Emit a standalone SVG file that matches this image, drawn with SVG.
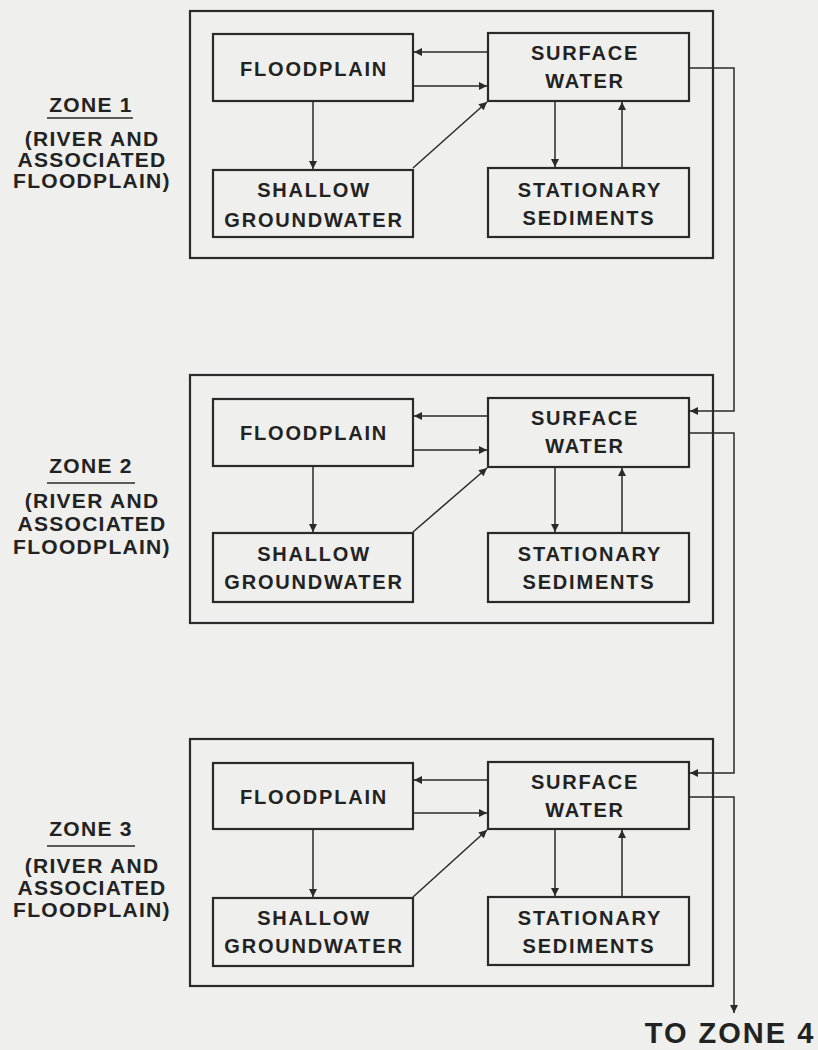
<svg xmlns="http://www.w3.org/2000/svg" width="818" height="1050" viewBox="0 0 818 1050">
<style>
.bg{fill:#efefed}
.zone{fill:none;stroke:#2a2a2a;stroke-width:2.2}
.box{fill:none;stroke:#2a2a2a;stroke-width:2.2}
.t{font-family:"Liberation Sans",Arial,sans-serif;font-weight:bold;font-size:20px;letter-spacing:1.8px;fill:#222;text-anchor:middle}
.zl{font-family:"Liberation Sans",Arial,sans-serif;font-weight:bold;font-size:21px;letter-spacing:1.3px;fill:#222;text-anchor:middle}
.c{fill:none;stroke:#2a2a2a;stroke-width:1.5;marker-end:url(#ah)}
.ul{stroke:#2a2a2a;stroke-width:1.5}
</style>
<defs>
<marker id="ah" viewBox="0 0 10 10" refX="10" refY="5" markerWidth="11" markerHeight="8" markerUnits="userSpaceOnUse" orient="auto">
<path d="M0,0 L10,5 L0,10 Z" fill="#2a2a2a"/>
</marker>
</defs>
<rect class="bg" x="0" y="0" width="818" height="1050"/>

<!-- Zone 1 -->
<g id="zone1">
<rect class="zone" x="190" y="11" width="523" height="247"/>
<g id="zone1-label">
<text class="zl" x="91" y="112">ZONE 1</text>
<line class="ul" x1="47" y1="118" x2="133" y2="118"/>
<text class="zl" x="92" y="146">(RIVER AND</text>
<text class="zl" x="92" y="167">ASSOCIATED</text>
<text class="zl" x="92" y="188">FLOODPLAIN)</text>
</g>
<g id="z1-floodplain"><rect class="box" x="213" y="34" width="200" height="67"/><text class="t" x="314" y="76">FLOODPLAIN</text></g>
<g id="z1-surface"><rect class="box" x="488" y="33" width="201" height="68"/><text class="t" x="585" y="60">SURFACE</text><text class="t" x="585" y="88">WATER</text></g>
<g id="z1-shallow"><rect class="box" x="213" y="170" width="200" height="67"/><text class="t" x="314" y="197">SHALLOW</text><text class="t" x="314" y="227">GROUNDWATER</text></g>
<g id="z1-sediments"><rect class="box" x="488" y="168" width="201" height="69"/><text class="t" x="590" y="197">STATIONARY</text><text class="t" x="589" y="225">SEDIMENTS</text></g>
</g>

<!-- Zone 2 -->
<g id="zone2">
<rect class="zone" x="190" y="375" width="523" height="248"/>
<g id="zone2-label">
<text class="zl" x="91" y="473">ZONE 2</text>
<line class="ul" x1="47" y1="483" x2="135" y2="483"/>
<text class="zl" x="92" y="508">(RIVER AND</text>
<text class="zl" x="92" y="531">ASSOCIATED</text>
<text class="zl" x="92" y="554">FLOODPLAIN)</text>
</g>
<g id="z2-floodplain"><rect class="box" x="213" y="399" width="200" height="67"/><text class="t" x="314" y="440">FLOODPLAIN</text></g>
<g id="z2-surface"><rect class="box" x="488" y="398" width="201" height="69"/><text class="t" x="585" y="425">SURFACE</text><text class="t" x="585" y="453">WATER</text></g>
<g id="z2-shallow"><rect class="box" x="213" y="533" width="200" height="69"/><text class="t" x="314" y="561">SHALLOW</text><text class="t" x="314" y="589">GROUNDWATER</text></g>
<g id="z2-sediments"><rect class="box" x="488" y="533" width="201" height="69"/><text class="t" x="590" y="561">STATIONARY</text><text class="t" x="589" y="589">SEDIMENTS</text></g>
</g>

<!-- Zone 3 -->
<g id="zone3">
<rect class="zone" x="190" y="739" width="523" height="247"/>
<g id="zone3-label">
<text class="zl" x="91" y="836">ZONE 3</text>
<line class="ul" x1="47" y1="846" x2="135" y2="846"/>
<text class="zl" x="92" y="873">(RIVER AND</text>
<text class="zl" x="92" y="895">ASSOCIATED</text>
<text class="zl" x="92" y="917">FLOODPLAIN)</text>
</g>
<g id="z3-floodplain"><rect class="box" x="213" y="763" width="200" height="66"/><text class="t" x="314" y="804">FLOODPLAIN</text></g>
<g id="z3-surface"><rect class="box" x="488" y="762" width="201" height="67"/><text class="t" x="585" y="789">SURFACE</text><text class="t" x="585" y="817">WATER</text></g>
<g id="z3-shallow"><rect class="box" x="213" y="898" width="200" height="68"/><text class="t" x="314" y="925">SHALLOW</text><text class="t" x="314" y="953">GROUNDWATER</text></g>
<g id="z3-sediments"><rect class="box" x="488" y="897" width="201" height="68"/><text class="t" x="590" y="925">STATIONARY</text><text class="t" x="589" y="953">SEDIMENTS</text></g>
</g>

<g id="to-zone4"><text x="730" y="1043" font-family="Liberation Sans, Arial, sans-serif" font-weight="bold" font-size="29" letter-spacing="2" fill="#222" text-anchor="middle">TO ZONE 4</text></g>

<g id="connectors">
<!-- zone 1 -->
<path class="c" d="M488,52 L414,52"/>
<path class="c" d="M413,86 L487,86"/>
<path class="c" d="M313,101 L313,169"/>
<path class="c" d="M413,168 L487,102"/>
<path class="c" d="M555,101 L555,167"/>
<path class="c" d="M622,168 L622,102"/>
<!-- zone 2 -->
<path class="c" d="M488,416 L414,416"/>
<path class="c" d="M413,450 L487,450"/>
<path class="c" d="M313,466 L313,532"/>
<path class="c" d="M413,532 L487,468"/>
<path class="c" d="M555,467 L555,532"/>
<path class="c" d="M622,533 L622,468"/>
<!-- zone 3 -->
<path class="c" d="M488,780 L414,780"/>
<path class="c" d="M413,813 L487,813"/>
<path class="c" d="M313,829 L313,897"/>
<path class="c" d="M413,897 L487,830"/>
<path class="c" d="M555,829 L555,896"/>
<path class="c" d="M622,897 L622,830"/>
<!-- inter-zone flow -->
<path class="c" d="M689,68 L734,68 L734,411 L690,411"/>
<path class="c" d="M689,433 L734,433 L734,773 L690,773"/>
<path class="c" d="M689,797 L734,797 L734,1013"/>
</g>
</svg>
